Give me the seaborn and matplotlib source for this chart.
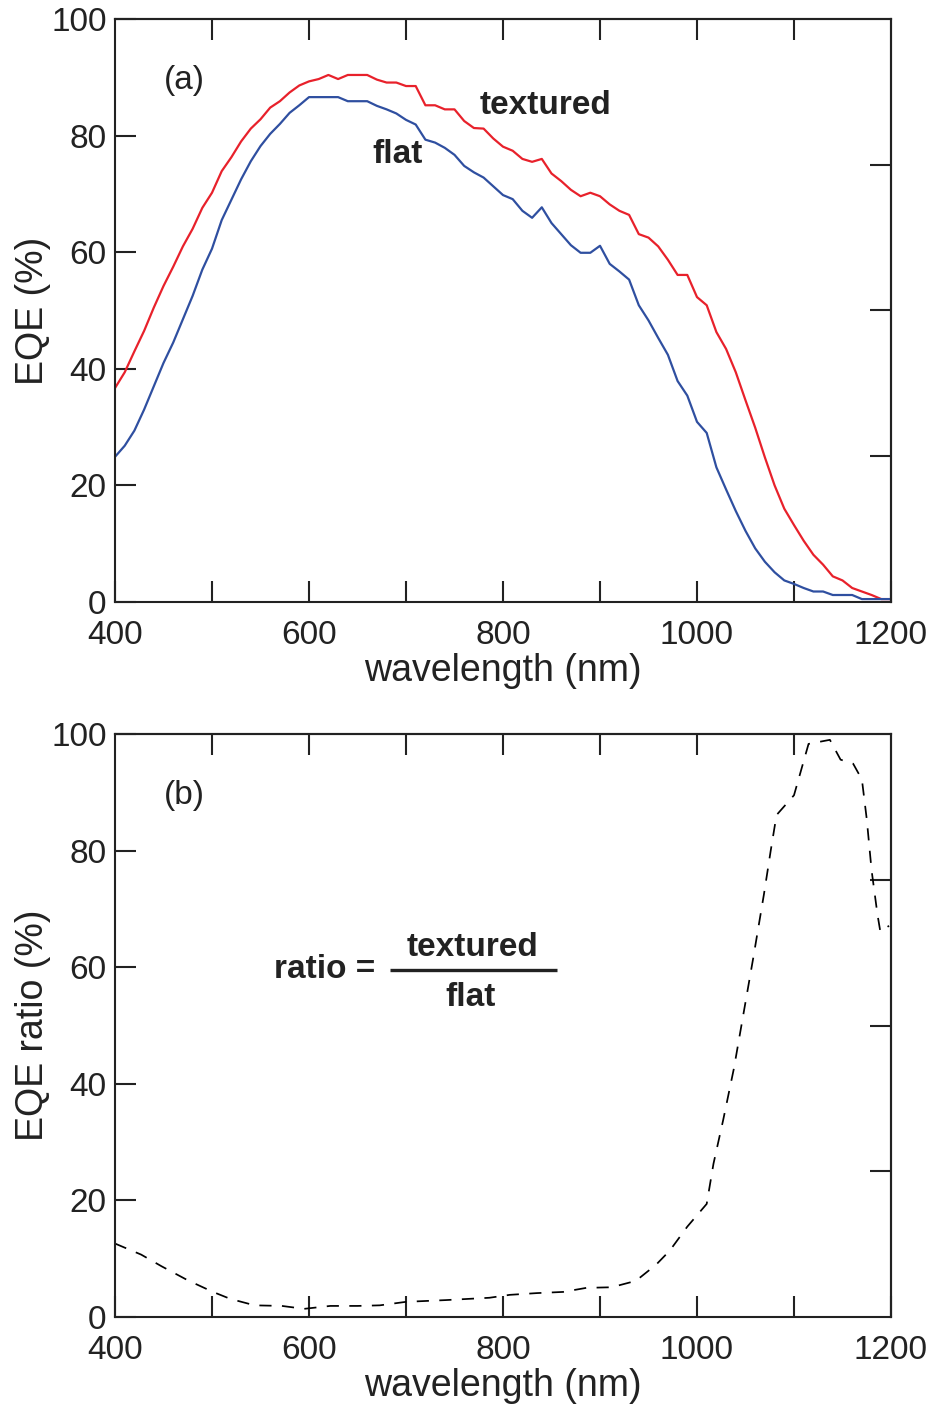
import numpy as np
import pandas as pd
import matplotlib
matplotlib.use("Agg")
import matplotlib.pyplot as plt
import seaborn as sns

# ---------------- data ----------------
wavelength = list(range(400, 1201, 10))

eqe_textured = [36.7, 39.4, 43.0, 46.5, 50.5, 54.2, 57.5, 61.0, 64.0, 67.6,
                70.2, 73.9, 76.3, 79.0, 81.2, 82.8, 84.8, 85.9, 87.4, 88.6,
                89.3, 89.7, 90.4, 89.7, 90.4, 90.4, 90.4, 89.6, 89.1, 89.1,
                88.5, 88.5, 85.2, 85.2, 84.5, 84.5, 82.5, 81.3, 81.2, 79.5,
                78.1, 77.4, 76.0, 75.5, 76.0, 73.5, 72.2, 70.7, 69.6, 70.2,
                69.6, 68.2, 67.1, 66.4, 63.1, 62.5, 61.0, 58.7, 56.1, 56.1,
                52.3, 50.9, 46.3, 43.4, 39.4, 34.6, 29.9, 24.8, 20.0, 16.0,
                13.2, 10.5, 8.1, 6.4, 4.4, 3.7, 2.4, 1.8, 1.2, 0.5, 0.5]

eqe_flat = [24.9, 26.8, 29.4, 33.0, 37.0, 41.0, 44.5, 48.5, 52.5, 57.0,
            60.6, 65.5, 69.0, 72.5, 75.6, 78.2, 80.3, 82.0, 83.9, 85.2,
            86.6, 86.6, 86.6, 86.6, 85.9, 85.9, 85.9, 85.1, 84.5, 83.8,
            82.7, 81.9, 79.3, 78.8, 77.9, 76.7, 74.8, 73.7, 72.8, 71.3,
            69.8, 69.1, 67.1, 65.9, 67.7, 65.0, 63.1, 61.2, 59.9, 59.9,
            61.1, 58.0, 56.7, 55.3, 50.9, 48.3, 45.3, 42.4, 37.9, 35.4,
            30.9, 29.0, 23.1, 19.3, 15.6, 12.2, 9.2, 6.9, 5.1, 3.7,
            3.1, 2.4, 1.8, 1.8, 1.2, 1.2, 1.2, 0.5, 0.5, 0.5, 0.5]

ratio_wl = [400, 427, 448, 475, 501, 519, 544, 572, 595, 622, 650, 673, 700,
            741, 786, 807, 835, 862, 886, 912, 937, 958, 972, 990, 1010, 1017,
            1027, 1038, 1048, 1058, 1069, 1076, 1082, 1100, 1107, 1115, 1137,
            1148, 1161, 1170, 1175, 1180, 1186, 1189, 1198]
ratio_val = [12.6, 10.7, 8.7, 6.3, 4.3, 3.1, 2.0, 1.9, 1.4, 1.9, 1.9, 2.0, 2.6,
             2.9, 3.3, 3.8, 4.1, 4.3, 5.0, 5.1, 6.2, 9.0, 11.4, 15.5, 19.4, 26.3,
             33.8, 42.6, 52.1, 61.6, 72.5, 80.0, 86.1, 89.5, 93.6, 98.3, 99.0,
             95.6, 94.9, 92.2, 85.4, 76.6, 69.1, 66.1, 67.1]

x_ticks = list(range(400, 1201, 100))
x_labels = ["400", "", "600", "", "800", "", "1000", "", "1200"]
y_ticks = [0, 20, 40, 60, 80, 100]
y_right_ticks = [25, 50, 75]

# ---------------- style ----------------
sns.set_style("ticks")
plt.rcParams["font.family"] = ["Liberation Sans", "DejaVu Sans"]

red = "#e8212b"
blue = "#2f4fa0"

fig = plt.figure(figsize=(9.35, 14.08), dpi=100)
W, H = 935, 1408
ax_l = 115 / W
ax_w = 776 / W
ax_h = 583 / H
ax1 = fig.add_axes([ax_l, 1 - 602 / H, ax_w, ax_h])
ax2 = fig.add_axes([ax_l, 1 - 1317 / H, ax_w, ax_h])

df_top = pd.DataFrame({"wl": wavelength, "textured": eqe_textured, "flat": eqe_flat})
df_bot = pd.DataFrame({"wl": ratio_wl, "ratio": ratio_val})

sns.lineplot(data=df_top, x="wl", y="textured", ax=ax1, color=red, lw=1.6)
sns.lineplot(data=df_top, x="wl", y="flat", ax=ax1, color=blue, lw=1.6)
sns.lineplot(data=df_bot, x="wl", y="ratio", ax=ax2, color="black", lw=1.25,
             linestyle=(0, (7, 6)))

tick_fs = 24
label_fs = 27
ink = "#222222"

for ax in (ax1, ax2):
    ax.set_xlim(400, 1200)
    ax.set_ylim(0, 100)
    ax.set_xticks(x_ticks)
    ax.set_xticklabels(x_labels)
    ax.set_yticks(y_ticks)
    ax.tick_params(axis="both", which="major", direction="in", length=15,
                   width=1.5, labelsize=tick_fs, color=ink, labelcolor=ink)
    ax.tick_params(axis="x", pad=13)
    ax.tick_params(axis="y", pad=6)
    for s in ax.spines.values():
        s.set_visible(True)
        s.set_linewidth(1.5)
        s.set_color(ink)
    # top ticks (unlabelled)
    sec = ax.secondary_xaxis("top")
    sec.set_xticks(x_ticks[1:-1])
    sec.tick_params(direction="in", length=15, width=1.5, labeltop=False,
                    color=ink)
    sec.spines["top"].set_linewidth(1.5)
    # right ticks (unlabelled)
    secy = ax.secondary_yaxis("right")
    secy.set_yticks(y_right_ticks)
    secy.tick_params(direction="in", length=15, width=1.5, labelright=False,
                     color=ink)
    secy.spines["right"].set_linewidth(1.5)
    ax.set_xlabel("wavelength (nm)", fontsize=label_fs, color=ink)
    ax.xaxis.set_label_coords(0.5, -0.088)

ax1.set_ylabel("EQE (%)", fontsize=label_fs, color=ink)
ax2.set_ylabel("EQE ratio (%)", fontsize=label_fs, color=ink)
ax1.yaxis.set_label_coords(-0.082, 0.5)
ax2.yaxis.set_label_coords(-0.082, 0.5)

ax1.text(472, 89.5, "(a)", fontsize=24, ha="center", va="center", color=ink)
ax1.text(844, 85.2, "textured", fontsize=24, fontweight="bold", ha="center",
         va="center", color=ink)
ax1.text(691, 76.8, "flat", fontsize=24, fontweight="bold", ha="center",
         va="center", color=ink)

ax2.text(472, 89.4, "(b)", fontsize=24, ha="center", va="center", color=ink)
ax2.text(616, 59.6, "ratio =", fontsize=24, fontweight="bold", ha="center",
         va="center", color=ink)
ax2.text(769, 63.3, "textured", fontsize=24, fontweight="bold", ha="center",
         va="center", color=ink)
ax2.text(767, 54.8, "flat", fontsize=24, fontweight="bold", ha="center",
         va="center", color=ink)
ax2.plot([683.5, 855.7], [59.5, 59.5], color=ink, lw=2.4,
         solid_capstyle="butt")

fig.savefig("out.png", dpi=100)
